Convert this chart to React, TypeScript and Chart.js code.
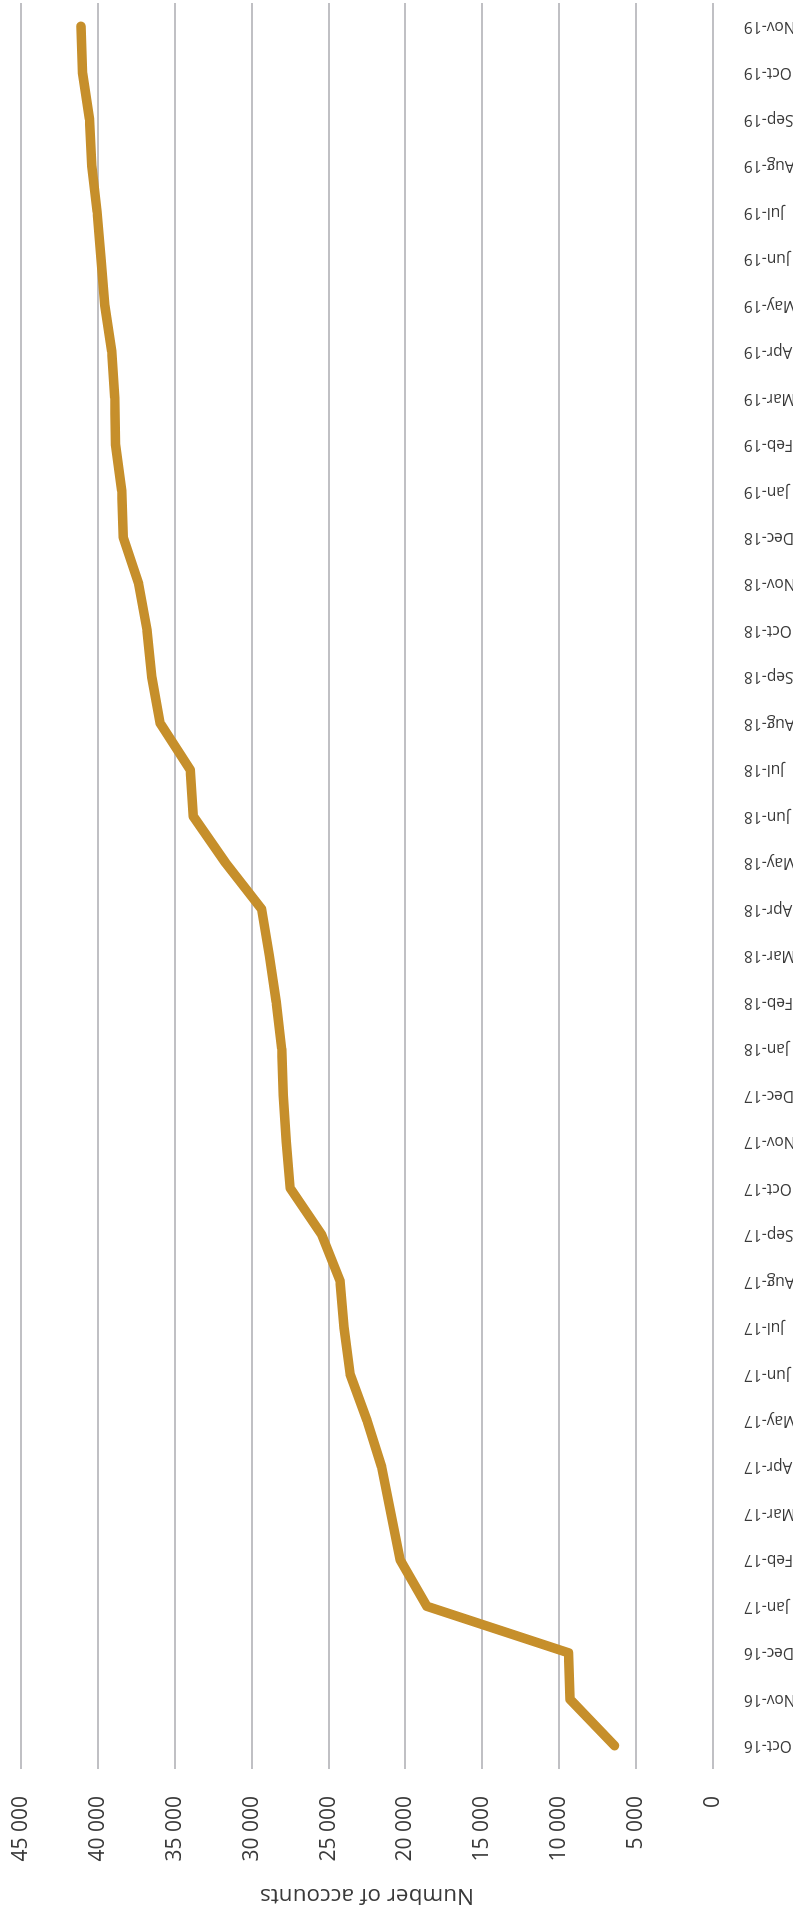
import React, { useEffect, useRef } from "react";
import { Chart, registerables } from "chart.js";

Chart.register(...registerables);

// Monthly totals, Oct-16 through Nov-19
const months: string[] = [
  "Oct-16", "Nov-16", "Dec-16",
  "Jan-17", "Feb-17", "Mar-17", "Apr-17", "May-17", "Jun-17",
  "Jul-17", "Aug-17", "Sep-17", "Oct-17", "Nov-17", "Dec-17",
  "Jan-18", "Feb-18", "Mar-18", "Apr-18", "May-18", "Jun-18",
  "Jul-18", "Aug-18", "Sep-18", "Oct-18", "Nov-18", "Dec-18",
  "Jan-19", "Feb-19", "Mar-19", "Apr-19", "May-19", "Jun-19",
  "Jul-19", "Aug-19", "Sep-19", "Oct-19", "Nov-19",
];

const accounts: number[] = [
  6400, 9300, 9400,
  18600, 20350, 20950, 21550, 22500, 23600,
  24000, 24250, 25450, 27500, 27750, 27950,
  28050, 28400, 28850, 29350, 31700, 33800,
  34000, 35950, 36500, 36800, 37350, 38350,
  38450, 38850, 38900, 39100, 39550, 39800,
  40050, 40400, 40550, 41000, 41100,
];

const valueMin = 0;
const valueMax = 45000;
const valueStep = 5000;
const valueTitle = "Number of accounts";

// Chart is laid out landscape, then turned a quarter turn to stand upright.
const CHART_W = 1914;
const CHART_H = 793;

const FONT = "'Open Sans', 'Noto Sans', sans-serif";
const TEXT = "#3a3a3a";

const withSpaces = (v: number) =>
  String(v).replace(/\B(?=(\d{3})+(?!\d))/g, " ");

export default function App() {
  const canvasRef = useRef<HTMLCanvasElement | null>(null);

  useEffect(() => {
    document.body.style.overflow = "hidden";
    const canvas = canvasRef.current;
    if (!canvas) return;
    const chart = new Chart(canvas, {
      type: "line",
      data: {
        labels: months,
        datasets: [
          {
            data: accounts,
            borderColor: "#C68F2B",
            backgroundColor: "#C68F2B",
            borderWidth: 9.5,
            borderCapStyle: "round",
            borderJoinStyle: "round",
            pointRadius: 0,
            pointHoverRadius: 0,
            tension: 0,
            fill: false,
          },
        ],
      },
      options: {
        responsive: false,
        animation: false,
        devicePixelRatio: 1,
        layout: { padding: { top: 21, right: 3, bottom: 0, left: 0 } },
        plugins: {
          legend: { display: false },
          tooltip: { enabled: false },
          title: { display: false },
        },
        scales: {
          x: {
            type: "category",
            offset: true,
            grid: { display: false, drawTicks: false },
            border: { display: false },
            ticks: {
              autoSkip: false,
              minRotation: 90,
              maxRotation: 90,
              padding: 31,
              color: TEXT,
              font: { family: FONT, size: 15.5 },
            },
            afterFit: (scale: any) => {
              scale.height = 80;
              scale.paddingLeft = 0;
              scale.paddingRight = 0;
            },
          },
          y: {
            min: valueMin,
            max: valueMax,
            grid: { color: "#c0c0c4", lineWidth: 2, drawTicks: false },
            border: { display: false },
            ticks: {
              stepSize: valueStep,
              padding: 27,
              color: TEXT,
              font: { family: FONT, size: 21 },
              callback: (v: any) => withSpaces(Number(v)),
            },
            title: {
              display: true,
              text: valueTitle,
              color: TEXT,
              font: { family: FONT, size: 22.5 },
              padding: { top: 5, bottom: 0 },
            },
            afterFit: (scale: any) => {
              scale.width = 145;
              scale.paddingTop = 0;
              scale.paddingBottom = 0;
            },
          },
        },
      },
    });
    return () => chart.destroy();
  }, []);

  return (
    <div
      style={{
        position: "absolute",
        left: 0,
        top: 0,
        width: CHART_W,
        height: CHART_H,
        transformOrigin: "0 0",
        transform: `translate(0px, ${CHART_W}px) rotate(-90deg)`,
        background: "#ffffff",
      }}
    >
      <canvas
        ref={canvasRef}
        width={CHART_W}
        height={CHART_H}
        style={{ display: "block", width: CHART_W, height: CHART_H }}
      />
    </div>
  );
}
